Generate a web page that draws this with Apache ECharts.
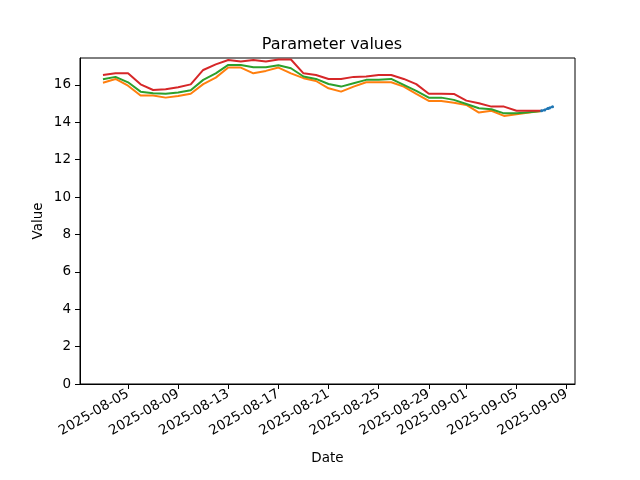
<!DOCTYPE html>
<html>
<head>
<meta charset="utf-8">
<script src="https://cdn.jsdelivr.net/npm/echarts@6/dist/echarts.min.js"></script>
<style>html,body{margin:0;padding:0;background:#fff}#c{width:640px;height:480px}</style>
</head>
<body>
<div id="c"></div>
<script>
// ---- data ----
const dates = [
  '2025-08-03','2025-08-04','2025-08-05','2025-08-06','2025-08-07','2025-08-08','2025-08-09',
  '2025-08-10','2025-08-11','2025-08-12','2025-08-13','2025-08-14','2025-08-15','2025-08-16',
  '2025-08-17','2025-08-18','2025-08-19','2025-08-20','2025-08-21','2025-08-22','2025-08-23',
  '2025-08-24','2025-08-25','2025-08-26','2025-08-27','2025-08-28','2025-08-29','2025-08-30',
  '2025-08-31','2025-09-01','2025-09-02','2025-09-03','2025-09-04','2025-09-05','2025-09-06',
  '2025-09-07'
];
const redValues = [
  16.53,16.62,16.62,16.03,15.73,15.77,15.87,16.03,16.80,17.10,17.33,17.25,17.33,17.25,
  17.36,17.36,16.62,16.53,16.32,16.32,16.43,16.45,16.53,16.53,16.32,16.04,15.53,15.53,
  15.52,15.16,15.02,14.84,14.84,14.62,14.62,14.62
];
const greenValues = [
  16.30,16.43,16.14,15.64,15.55,15.53,15.60,15.71,16.27,16.62,17.07,17.07,16.95,16.95,
  17.05,16.89,16.45,16.32,16.05,15.91,16.09,16.27,16.27,16.32,16.00,15.68,15.32,15.32,
  15.20,14.98,14.75,14.70,14.48,14.48,14.54,14.60
];
const orangeValues = [
  16.12,16.32,15.96,15.43,15.43,15.32,15.41,15.53,16.04,16.39,16.93,16.93,16.62,16.75,
  16.93,16.62,16.36,16.21,15.82,15.64,15.91,16.14,16.14,16.14,15.91,15.52,15.14,15.14,
  15.05,14.93,14.52,14.62,14.34,14.43,14.52,14.60
];
const blueTimes = ['2025-09-07 00:00','2025-09-07 06:00','2025-09-07 12:00','2025-09-07 15:00','2025-09-07 21:00'];
const blueValues = [14.62,14.66,14.74,14.76,14.83];
const xTickLabels = ['2025-08-05','2025-08-09','2025-08-13','2025-08-17','2025-08-21','2025-08-25','2025-08-29','2025-09-01','2025-09-05','2025-09-09'];
const yTickLabels = [0,2,4,6,8,10,12,14,16];

function ts(s){
  const [d,t] = s.split(' ');
  const [y,m,dd] = d.split('-').map(Number);
  let h=0, mi=0;
  if(t){ [h,mi] = t.split(':').map(Number); }
  return new Date(y, m-1, dd, h, mi).getTime();
}
function fmt(v){
  const d = new Date(v);
  const p = n => String(n).padStart(2,'0');
  return d.getFullYear()+'-'+p(d.getMonth()+1)+'-'+p(d.getDate());
}
const pair = (xs, ys) => xs.map((x,i)=>[ts(x), ys[i]]);
const xTicks = xTickLabels.map(ts);

const font = 'DejaVu Sans';
const chart = echarts.init(document.getElementById('c'), null, {renderer:'canvas'});
chart.setOption({
  animation:false,
  backgroundColor:'#fff',
  title:{text:'Parameter values', left:327, top:32, textAlign:'center',
    textStyle:{fontFamily:font, fontSize:16, fontWeight:'normal', color:'#000'}},
  grid:{left:80, right:65, top:58, bottom:96, show:true, borderColor:'#000', borderWidth:1, containLabel:false},
  xAxis:{
    type:'value',
    min: ts('2025-08-01 04:00'), max: ts('2025-09-09 16:00'),
    name:'Date', nameLocation:'middle', nameGap:67, nameMoveOverlap:false,
    nameTextStyle:{fontFamily:font, fontSize:13.5, color:'#000'},
    axisLine:{show:true, lineStyle:{color:'#000', width:1}},
    axisTick:{show:true, length:5, customValues:xTicks, lineStyle:{color:'#000'}},
    axisLabel:{customValues:xTicks, rotate:30, margin:9, fontFamily:font, fontSize:13.5, color:'#000',
      formatter: v => fmt(v), hideOverlap:false, showMinLabel:true, showMaxLabel:true},
    splitLine:{show:false}
  },
  yAxis:{
    type:'value', min:0, max:17.44,
    name:'Value', nameLocation:'middle', nameGap:35, nameMoveOverlap:false,
    nameTextStyle:{fontFamily:font, fontSize:13.5, color:'#000'},
    axisLine:{show:true, lineStyle:{color:'#000', width:1}},
    axisTick:{show:true, length:5, customValues:yTickLabels, lineStyle:{color:'#000'}},
    axisLabel:{customValues:yTickLabels, margin:9, fontFamily:font, fontSize:13.5, color:'#000'},
    splitLine:{show:false}
  },
  series:[
    {type:'line', data:pair(blueTimes, blueValues), showSymbol:true, symbol:'circle', symbolSize:3,
      itemStyle:{color:'#1f77b4'}, lineStyle:{color:'#1f77b4', width:2}},
    {type:'line', data:pair(dates, orangeValues), showSymbol:false, lineStyle:{color:'#ff7f0e', width:2}, itemStyle:{color:'#ff7f0e'}},
    {type:'line', data:pair(dates, greenValues), showSymbol:false, lineStyle:{color:'#2ca02c', width:2}, itemStyle:{color:'#2ca02c'}},
    {type:'line', data:pair(dates, redValues), showSymbol:false, lineStyle:{color:'#d62728', width:2}, itemStyle:{color:'#d62728'}}
  ]
});
</script>
</body>
</html>
